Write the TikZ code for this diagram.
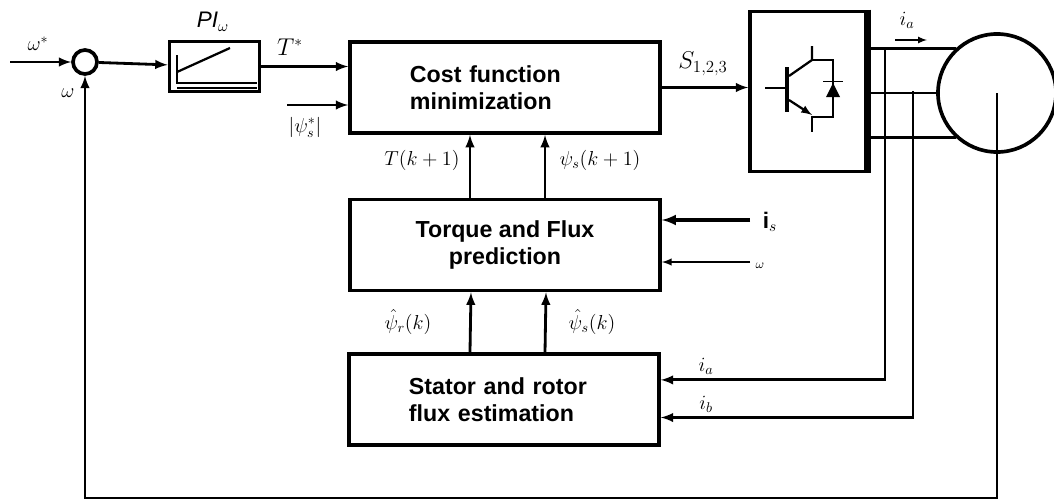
\documentclass[tikz,border=0pt]{standalone}
\usepackage{fontspec}
\setmainfont{Liberation Sans}
\usetikzlibrary{positioning,calc}

\tikzset{
    block/.style={draw, line width=2.6pt, minimum width=7.75cm, minimum height=2.28cm,
        align=center, font=\fontsize{16.5}{19}\selectfont\bfseries},
    leftblock/.style={block, text width=4.75cm, align=left},
    sig/.style={line width=2pt, ->},
    lbl/.style={inner sep=1pt, font=\fontsize{14}{16}\selectfont},
}

\begin{document}
\begin{tikzpicture}[x=0.025cm, y=-0.025cm, >=latex]

    \useasboundingbox (0,0) rectangle (1054,501);

    % blocks
    \node[leftblock] (cost)   at (505,87.5)  {Cost function\\minimization};
    \node[block]     (torque) at (505,245)   {Torque and Flux\\prediction};
    \node[leftblock] (stator) at (504,399.5) {Stator and rotor\\flux estimation};

    \node[draw, line width=2.6pt, minimum width=2.9cm, minimum height=4cm] (inv) at (808,91.5) {};
    \node[draw, line width=2.6pt, minimum width=2.25cm, minimum height=1.25cm] (pi) at (214.5,66.5) {};
    \node[circle, draw, line width=2.6pt, minimum size=0.6cm, inner sep=0pt] (sum) at (85,62) {};
    \node[circle, draw, line width=2.6pt, minimum size=2.95cm, inner sep=0pt] (motor) at (997,93) {};

    % PI characteristic
    \draw[line width=2pt] (177,55) |- (257,83);
    \draw[line width=2pt] (177,88) -- (257,88);
    \draw[line width=1.6pt] (177,72) -- (230,48);

    % inverter: thick right side and switch
    \draw[line width=4.5pt] (inv.north east) -- (inv.south east);
    \draw[line width=1.4pt] (765,88) -- (785,88);
    \draw[line width=3pt] (787,67) -- (787,112);
    \draw[line width=1.6pt] (789,76) -- (812,60) -- (812,46);
    \draw[line width=1.6pt] (812,60) -- (833,60) -- (833,117) -- (812,117) -- (812,132);
    \draw[line width=1.6pt, ->] (789,100) -- (812,115);
    \fill (833,83) -- (826,97) -- (840,97) -- cycle;
    \draw[thin] (823,81) -- (843,81);

    % reference path
    \coordinate (win) at (10,62);
    \draw[sig] (win) -- (sum);
    \draw[sig] (sum) -- (pi);
    \draw[sig] (pi) -- (pi -| cost.west);
    \coordinate (fref) at (287,105);
    \draw[sig] (fref) -- (fref -| cost.west);
    \draw[sig] (cost.east) -- (cost.east -| inv.west);

    % predictions
    \draw[sig] ([xshift=-0.875cm]torque.north) -- ([xshift=-0.875cm]cost.south);
    \draw[sig] ([xshift=1cm]torque.north) -- ([xshift=1cm]cost.south);
    \draw[sig] ([xshift=-0.85cm]stator.north) -- ([xshift=-0.85cm]torque.south);
    \draw[sig] ([xshift=1.025cm]stator.north) -- ([xshift=1.025cm]torque.south);

    \coordinate (isin) at (750,220);
    \coordinate (wsin) at (750,262);
    \draw[sig, line width=2.4pt] (isin) -- (isin -| torque.east);
    \draw[line width=1.4pt, ->] (wsin) -- (wsin -| torque.east);

    % motor phases
    \draw[line width=2pt] (motor.133) -- (motor.133 -| inv.east);
    \draw[line width=2pt] (motor.west) -- (motor.west -| inv.east);
    \draw[line width=2pt] (motor.227) -- (motor.227 -| inv.east);
    \coordinate (ia0) at (895,40);
    \coordinate (ia1) at (927,40);
    \draw[line width=1.2pt, ->] (ia0) -- (ia1);

    % current feedback
    \coordinate (tapa) at (885,49);
    \coordinate (tapb) at (913,91);
    \draw[sig] (tapa) |- ([yshift=0.49cm]stator.east);
    \draw[sig] (tapb) |- ([yshift=-0.45cm]stator.east);

    % speed feedback
    \draw[sig] (motor.center) -- ++(0,405) -| (sum.south);

    % labels
    \node[lbl] (lwref) at (38,44)  {$\omega^{*}$};
    \node[lbl] (lwfb)  at (68,93)  {$\omega$};
    \node[lbl, font=\fontsize{16}{18}\selectfont] (lpi) at (213,22) {\textit{PI}$_{\omega}$};
    \node[lbl, font=\fontsize{16}{18}\selectfont] (ltref) at (290,47) {$T^{*}$};
    \node[lbl] (lfref) at (305,127) {$|\psi_s^{*}|$};
    \node[lbl] (ltk)   at (422,160) {$T(k+1)$};
    \node[lbl] (lfk)   at (600,160) {$\psi_s(k+1)$};
    \node[lbl, font=\fontsize{17}{19}\selectfont] (ls) at (703,64) {$S_{1,2,3}$};
    \node[lbl] (lia)   at (907,20)  {$i_a$};
    \node[lbl, font=\fontsize{16}{18}\selectfont] (lis) at (770,222) {$\mathbf{i}_s$};
    \node[lbl, font=\small] (lws) at (760,266) {$\omega$};
    \node[lbl] (lfr)   at (408,322) {$\hat{\psi}_r(k)$};
    \node[lbl] (lfs)   at (592,322) {$\hat{\psi}_s(k)$};
    \node[lbl] (lia2)  at (706,366) {$i_a$};
    \node[lbl] (lib)   at (706,404) {$i_b$};

\end{tikzpicture}
\end{document}
